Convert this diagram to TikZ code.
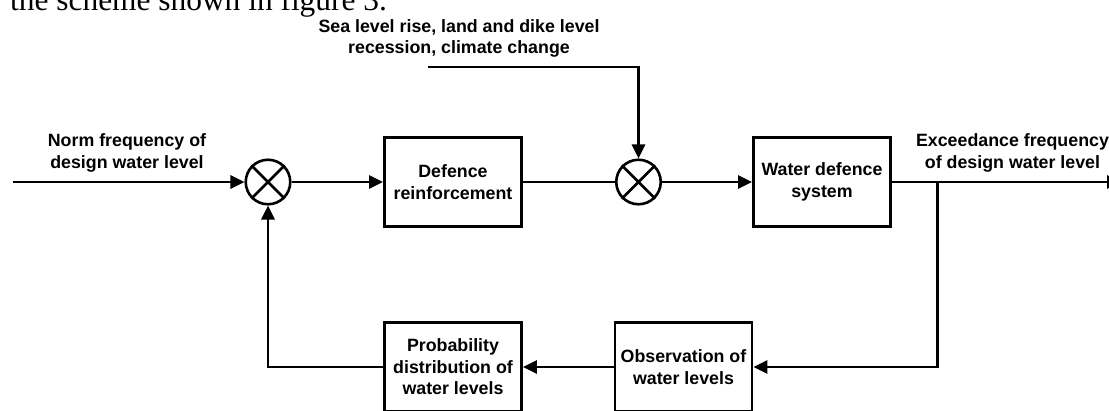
\documentclass[tikz,border=0pt]{standalone}
\usepackage{fontspec}
\setmainfont{Liberation Sans}
\newfontfamily\serifbody{Liberation Serif}
\usetikzlibrary{arrows.meta}

\begin{document}
\begin{tikzpicture}[x=1pt,y=-1pt,
  lbl/.style={font=\bfseries\fontsize{17.8}{21.5}\selectfont, align=center, inner sep=0pt},
  block/.style={draw, line width=2.8pt, minimum width=137pt, minimum height=89pt, inner sep=0pt, lbl},
  junction/.style={draw, circle, line width=2.6pt, minimum size=44.5pt, inner sep=0pt},
  flow/.style={line width=2.8pt, -{Triangle[length=14pt,width=13pt]}},
  wire/.style={line width=2.8pt}]
\useasboundingbox (0,0) rectangle (1109,410);
\clip (0,0) rectangle (1109,410);

% running text above the scheme
\node[anchor=base west, inner sep=0pt, font=\serifbody\fontsize{31.4}{36}\selectfont] (lead) at (10,10) {the scheme shown in figure 3.};

% summing junctions
\node[junction] (s1) at (268,182) {};
\node[junction] (s2) at (638.5,182) {};
\foreach \j in {s1,s2}
  \draw[line width=2.6pt] (\j.north west) -- (\j.south east) (\j.north east) -- (\j.south west);

% blocks
\node[block] (def)  at (453,182)   {Defence\\reinforcement};
\node[block] (wds)  at (822,182)   {Water defence\\system};
\node[block] (prob) at (453,367)   {Probability\\distribution of\\water levels};
\node[block] (obs)  at (683.5,367) {Observation of\\water levels};

% signal labels
\node[lbl] (norm)  at (127,153)    {Norm frequency of\\design water level};
\node[lbl] (dlbl)  at (459,38.5)   {Sea level rise, land and dike level\\recession, climate change};
\node[lbl] (exc)   at (1012.5,153) {Exceedance frequency\\of design water level};

% free ends of signal lines
\coordinate (in)   at (13,182);
\coordinate (out)  at (1121,182);
\coordinate (dist) at (428,67);
\coordinate (tap)  at (937.5,182);

% forward path
\draw[flow] (in) -- (s1);
\draw[flow] (s1) -- (def);
\draw[wire] (def) -- (s2);
\draw[flow] (s2) -- (wds);
\draw[flow] (wds) -- (out);
\draw[flow] (dist) -| (s2);

% feedback path
\draw[flow] (tap) |- (obs);
\draw[flow] (obs) -- (prob);
\draw[flow] (prob) -| (s1);
\end{tikzpicture}
\end{document}
